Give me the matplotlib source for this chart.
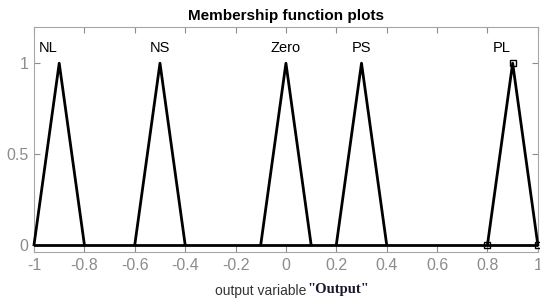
import matplotlib.pyplot as plt
import numpy as np

plt.rcParams['font.family'] = ['Liberation Sans', 'DejaVu Sans']

# membresias triangulares (a, b, c)
nombres = ['NL', 'NS', 'Zero', 'PS', 'PL']
izq = [-1.0, -0.6, -0.1, 0.2, 0.8]
pico = [-0.9, -0.5, 0.0, 0.3, 0.9]
der = [-0.8, -0.4, 0.1, 0.4, 1.0]
altura = [1, 1, 1, 1, 1]

x_ticks = [-1, -0.8, -0.6, -0.4, -0.2, 0, 0.2, 0.4, 0.6, 0.8, 1]
y_ticks = [0, 0.5, 1]
y_tick_labels = ['0', '0.5', '1']

gris = '#8c8c8c'

fig = plt.figure(figsize=(5.4, 2.99), dpi=100)
ax = fig.add_axes([0.063, 0.157, 0.933, 0.753])

# linea base en cero
ax.plot([x_ticks[0], x_ticks[-1]], [0, 0], color='black', linewidth=2, zorder=3)

for i, (nombre, a, b, c, h) in enumerate(zip(nombres, izq, pico, der, altura)):
    ax.plot([a, b, c], [0, h, 0], color='black', linewidth=2, zorder=3, clip_on=False)
    # las etiquetas de los extremos quedan algo corridas a la izquierda
    desplaz = -0.043 if i in (0, len(nombres) - 1) else 0.0
    ax.text(b + desplaz, h + 0.085, nombre, fontsize=10.5, ha='center', va='center', color='black')

# la ultima funcion aparece seleccionada (marcadores cuadrados)
ax.plot([izq[-1], pico[-1], der[-1]], [0, altura[-1], 0], linestyle='none', marker='s',
        markersize=5, markerfacecolor='none', markeredgecolor='black', markeredgewidth=1,
        zorder=4, clip_on=False)

ax.set_xlim(-1, 1)
ax.set_ylim(-0.04, 1.2)
ax.set_xticks(x_ticks)
ax.set_xticklabels([f'{t:g}' for t in x_ticks])
ax.set_yticks(y_ticks)
ax.set_yticklabels(y_tick_labels)
ax.tick_params(axis='both', direction='in', length=4, color=gris, labelcolor=gris,
               labelsize=11.5, top=True, right=True, pad=4)
for s in ax.spines.values():
    s.set_color('#a6a6a6')
    s.set_linewidth(0.8)

ax.set_title('Membership function plots', fontsize=11, fontweight='bold', pad=5)

fig.text(0.568, 0.003, 'output variable', fontsize=10, color='#333333', ha='right', va='bottom')
fig.text(0.570, 0.009, '"Output"', fontsize=10.5, fontweight='bold', color='#1a1a2e',
         family='Liberation Serif', ha='left', va='bottom')

fig.savefig('out.png', dpi=100)
